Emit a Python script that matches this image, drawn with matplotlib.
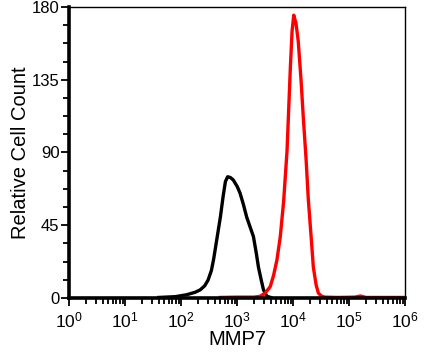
import numpy as np
import matplotlib.pyplot as plt
from matplotlib.ticker import FixedLocator, LogLocator, FuncFormatter, NullFormatter

plt.rcParams['font.family'] = ['Liberation Sans', 'DejaVu Sans']
plt.rcParams['mathtext.fontset'] = 'custom'
plt.rcParams['mathtext.rm'] = 'Liberation Sans'

# control (black) histogram: log10(MMP7) vs count
ctrl_log = [1.60, 1.90, 2.10, 2.25, 2.34, 2.42, 2.48, 2.54, 2.58, 2.64, 2.70, 2.75,
            2.79, 2.83, 2.88, 2.93, 3.00, 3.05, 3.11, 3.17, 3.23, 3.29, 3.34,
            3.38, 3.43, 3.47, 3.53, 3.60]
ctrl_cnt = [0.3, 0.8, 2.0, 3.5, 5.0, 7.5, 11, 17, 24, 37, 50, 63,
            72, 75, 74.5, 73, 69, 65, 58, 50, 44, 38, 28,
            19, 11, 5, 1.0, 0.3]

# MMP7 stained (red) histogram
mmp_log = [2.70, 3.00, 3.30, 3.41, 3.50, 3.59, 3.65, 3.71, 3.77, 3.83, 3.89,
           3.95, 3.98, 4.01, 4.05, 4.09, 4.14, 4.18, 4.23, 4.27, 4.32, 4.36,
           4.41, 4.45, 4.51, 4.57, 4.80, 5.10, 5.20, 5.30, 5.60, 6.00]
mmp_cnt = [0.3, 0.5, 0.5, 1.0, 3.0, 7.0, 14, 23.5, 38, 60, 91,
           143, 165, 175, 170, 159, 135, 112, 86, 61, 38, 19,
           8, 3, 1.0, 0.5, 0.3, 0.5, 1.2, 0.3, 0.3, 0.3]

yticks = [0, 45, 90, 135, 180]
decades = [0, 1, 2, 3, 4, 5, 6]

fig = plt.figure(figsize=(4.32, 3.53), dpi=100)
ax = fig.add_axes([0.160, 0.156, 0.778, 0.824])

ax.plot(10 ** np.array(ctrl_log), ctrl_cnt, color='black', lw=2.4)
ax.plot(10 ** np.array(mmp_log), mmp_cnt, color='#ff0000', lw=2.4)

ax.set_xscale('log')
ax.set_xlim(1, 1e6)
ax.set_ylim(0, 180)

ax.xaxis.set_major_locator(FixedLocator([10.0 ** d for d in decades]))
ax.xaxis.set_major_formatter(FuncFormatter(
    lambda v, p: r'$\mathregular{10^{%d}}$' % round(np.log10(v))))
ax.xaxis.set_minor_locator(LogLocator(base=10, subs=np.arange(2, 10), numticks=20))
ax.xaxis.set_minor_formatter(NullFormatter())

ax.set_yticks(yticks)
ax.set_yticks(np.arange(0, 181, 11.25), minor=True)

ax.tick_params(axis='both', which='major', direction='out', length=6, width=1.3,
               labelsize=12, colors='black')
ax.tick_params(axis='both', which='minor', direction='out', length=4, width=1.3)
ax.tick_params(axis='x', which='major', pad=3, labelsize=12.5)
ax.tick_params(axis='y', which='major', pad=1)

for s in ['left', 'bottom']:
    ax.spines[s].set_linewidth(2.6)
for s in ['top', 'right']:
    ax.spines[s].set_linewidth(1.0)

ax.set_xlabel('MMP7', fontsize=14.5, labelpad=0)
ax.set_ylabel('Relative Cell Count', fontsize=14.5, labelpad=1)

fig.savefig('out.png', dpi=100)
